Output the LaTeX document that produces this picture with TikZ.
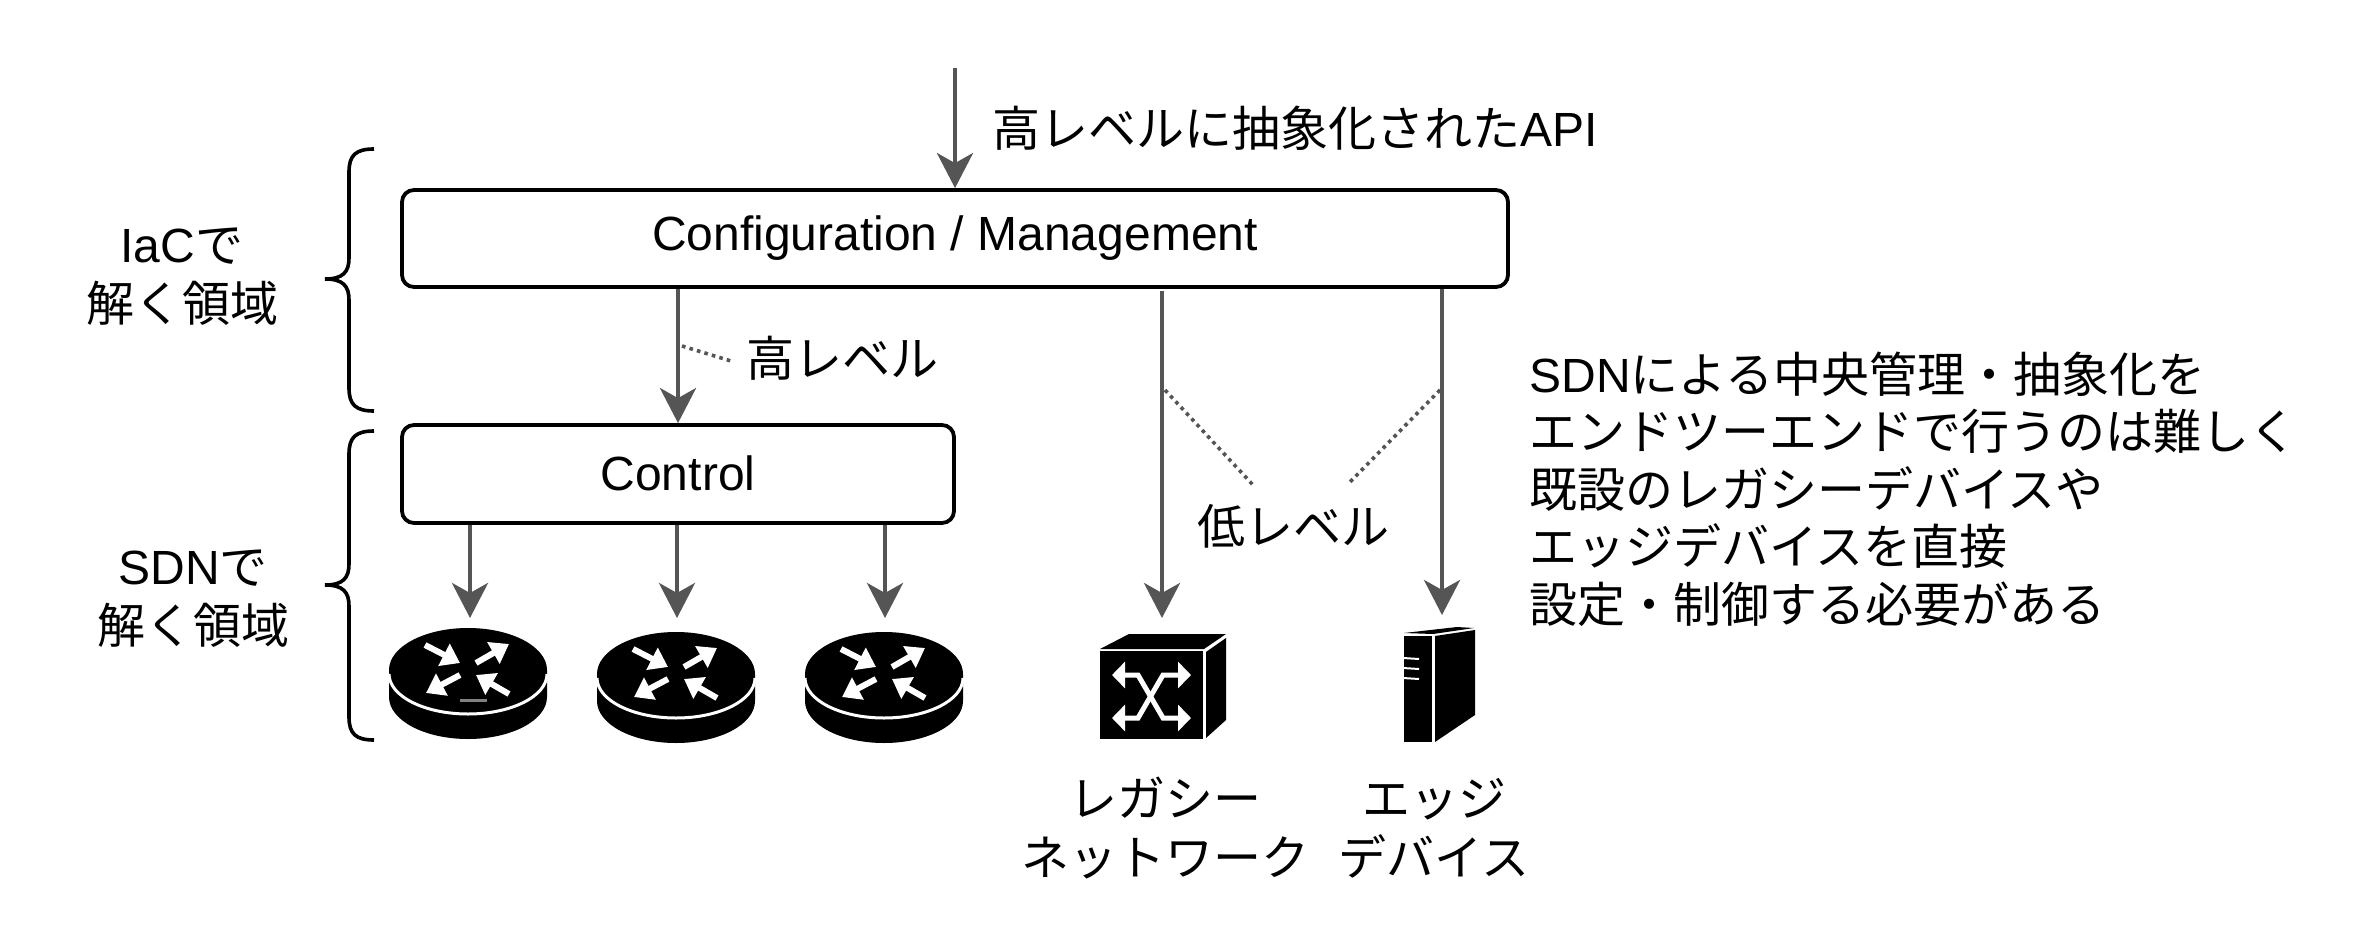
\documentclass[tikz,border=0pt]{standalone}
\usepackage{fontspec}
\setmainfont{Noto Sans CJK JP}
\newfontfamily\lat{Liberation Sans}
\usetikzlibrary{arrows.meta}
\definecolor{conngray}{HTML}{555555}
\tikzset{
    router/.pic = {
        \fill[black] (-79,0) -- (-79,27) arc[x radius=79, y radius=42, start angle=180, end angle=0] -- (79,0)
            arc[x radius=79, y radius=42, start angle=0, end angle=-180] -- cycle;
        \draw[white, line width=1.5pt] (-79,4) arc[x radius=79, y radius=40, start angle=180, end angle=0];
        \draw[white, line width=3pt, -{Triangle[length=9pt, width=12pt]}] (-43,-25) -- (-8,-7);
        \draw[white, line width=3pt, -{Triangle[length=9pt, width=12pt]}] (8,-7) -- (41,-26);
        \draw[white, line width=3pt, -{Triangle[length=9pt, width=12pt]}] (-8,5) -- (-42,23);
        \draw[white, line width=3pt, -{Triangle[length=9pt, width=12pt]}] (41,24) -- (8,5);
    },
    legacy/.pic = {
        \fill[black] (1100,651) rectangle (1203,739);
        \fill[black] (1100,649) -- (1129,634) -- (1226,634) -- (1204,649) -- cycle;
        \fill[black] (1206,652) -- (1226,638) -- (1226,720) -- (1206,738) -- cycle;
        \draw[white, line width=2.5pt, {Triangle[length=6.5pt, width=13pt]}-{Triangle[length=6.5pt, width=13pt]}]
            (1112,675) -- (1138,675) -- (1163,718) -- (1191,718);
        \draw[white, line width=2.5pt, {Triangle[length=6.5pt, width=13pt]}-{Triangle[length=6.5pt, width=13pt]}]
            (1112,718) -- (1138,718) -- (1163,675) -- (1191,675);
    },
    edgebox/.pic = {
        \fill[black] (1404,636) rectangle (1432,742);
        \fill[black] (1404,633) -- (1457,627) -- (1474,628) -- (1433,634) -- cycle;
        \fill[black] (1435,636) -- (1475,630) -- (1475,715) -- (1435,742) -- cycle;
        \foreach \y in {658,668,678} {
            \draw[white, line width=1pt] (1403,\y) -- (1419,\y+1);
        }
    }
}

\begin{document}
\begin{tikzpicture}[x=0.5pt, y=-0.5pt,
        main/.style = {draw, line width=1.9pt, rounded corners=6pt, inner sep=0pt, font=\lat\fontsize{24}{29.5}\selectfont},
        lab/.style = {inner sep=0pt, align=center, font=\fontsize{24}{29.5}\selectfont},
        conn/.style = {draw=conngray, line width=2.2pt, -{Stealth[length=17.5pt, width=18pt, inset=5pt]}},
        dots/.style = {draw=conngray, line width=1.8pt, dash pattern=on 1.8pt off 2.1pt},
        curly/.style = {draw, line width=1.8pt}]
    \useasboundingbox (0,0) rectangle (2364,952);

    \node[main, minimum width=553pt, minimum height=48.5pt] (Cfg) at (955,238.5) {\raisebox{-0.7pt}{Configuration / Management}\hspace{5pt}};
    \node[main, minimum width=276pt, minimum height=49pt] (Ctl) at (678,474) {\raisebox{1pt}{Control}\hspace{3pt}};

    \coordinate (Api) at (955,68);
    \coordinate (R1) at (470,618);
    \coordinate (R2) at (677,618);
    \coordinate (R3) at (885,618);
    \coordinate (SwTop) at (1162,618);
    \coordinate (SwStart) at (1162,291);
    \coordinate (EdTop) at (1442,615);
    \coordinate (HighA) at (682,346);
    \coordinate (HighB) at (731,361);
    \coordinate (LowA) at (1165,390);
    \coordinate (LowB) at (1253,485);
    \coordinate (LowC) at (1440,390);
    \coordinate (LowD) at (1349,483);

    \node[lab, anchor=west] (ApiLab) at (992,128) {高レベルに抽象化された{\lat API}};
    \node[lab, anchor=west] (High) at (746,358) {高レベル};
    \node[lab] (Low) at (1293,526) {低レベル};
    \node[lab] (Iac) at (182,276.5) {{\lat IaC}で\\解く領域};
    \node[lab] (Sdn) at (193,599) {{\lat SDN}で\\解く領域};
    \node[lab] (Leg) at (1165,828) {レガシー\\ネットワーク};
    \node[lab] (Edge) at (1434,828) {エッジ\\デバイス};
    \node[lab, anchor=west, align=left, font=\fontsize{24}{28.7}\selectfont] (Note) at (1529,489)
        {{\lat SDN}による中央管理・抽象化を\\エンドツーエンドで行うのは難しく\\既設のレガシーデバイスや\\エッジデバイスを直接\\設定・制御する必要がある};

    \draw[conn] (Api) -- (Api |- Cfg.north);
    \draw[conn] (Cfg.south -| Ctl.north) -- (Ctl.north);
    \draw[conn] (Ctl.south -| R1) -- (R1);
    \draw[conn] (Ctl.south -| R2) -- (R2);
    \draw[conn] (Ctl.south -| R3) -- (R3);
    \draw[conn] (SwStart) -- (SwTop);
    \draw[conn] (Cfg.south -| EdTop) -- (EdTop);

    \draw[dots] (HighA) -- (HighB);
    \draw[dots] (LowA) -- (LowB);
    \draw[dots] (LowC) -- (LowD);

    \draw[curly] (374,149) .. controls (356,149) and (349,155) .. (349,172) -- (349,258)
        .. controls (349,272) and (343,279) .. (325,279) .. controls (343,279) and (349,286) .. (349,300)
        -- (349,388) .. controls (349,405) and (356,411) .. (374,411);
    \draw[curly] (374,431) .. controls (356,431) and (349,437) .. (349,454) -- (349,564)
        .. controls (349,578) and (343,585) .. (325,585) .. controls (343,585) and (349,592) .. (349,606)
        -- (349,717) .. controls (349,734) and (356,740) .. (374,740);

    \pic at (468,670) {router};
    \pic at (676,674) {router};
    \pic at (884,674) {router};
    \draw[gray, line width=1.5pt] (460,700) -- (487,700);
    \pic {legacy};
    \pic {edgebox};
\end{tikzpicture}
\end{document}
